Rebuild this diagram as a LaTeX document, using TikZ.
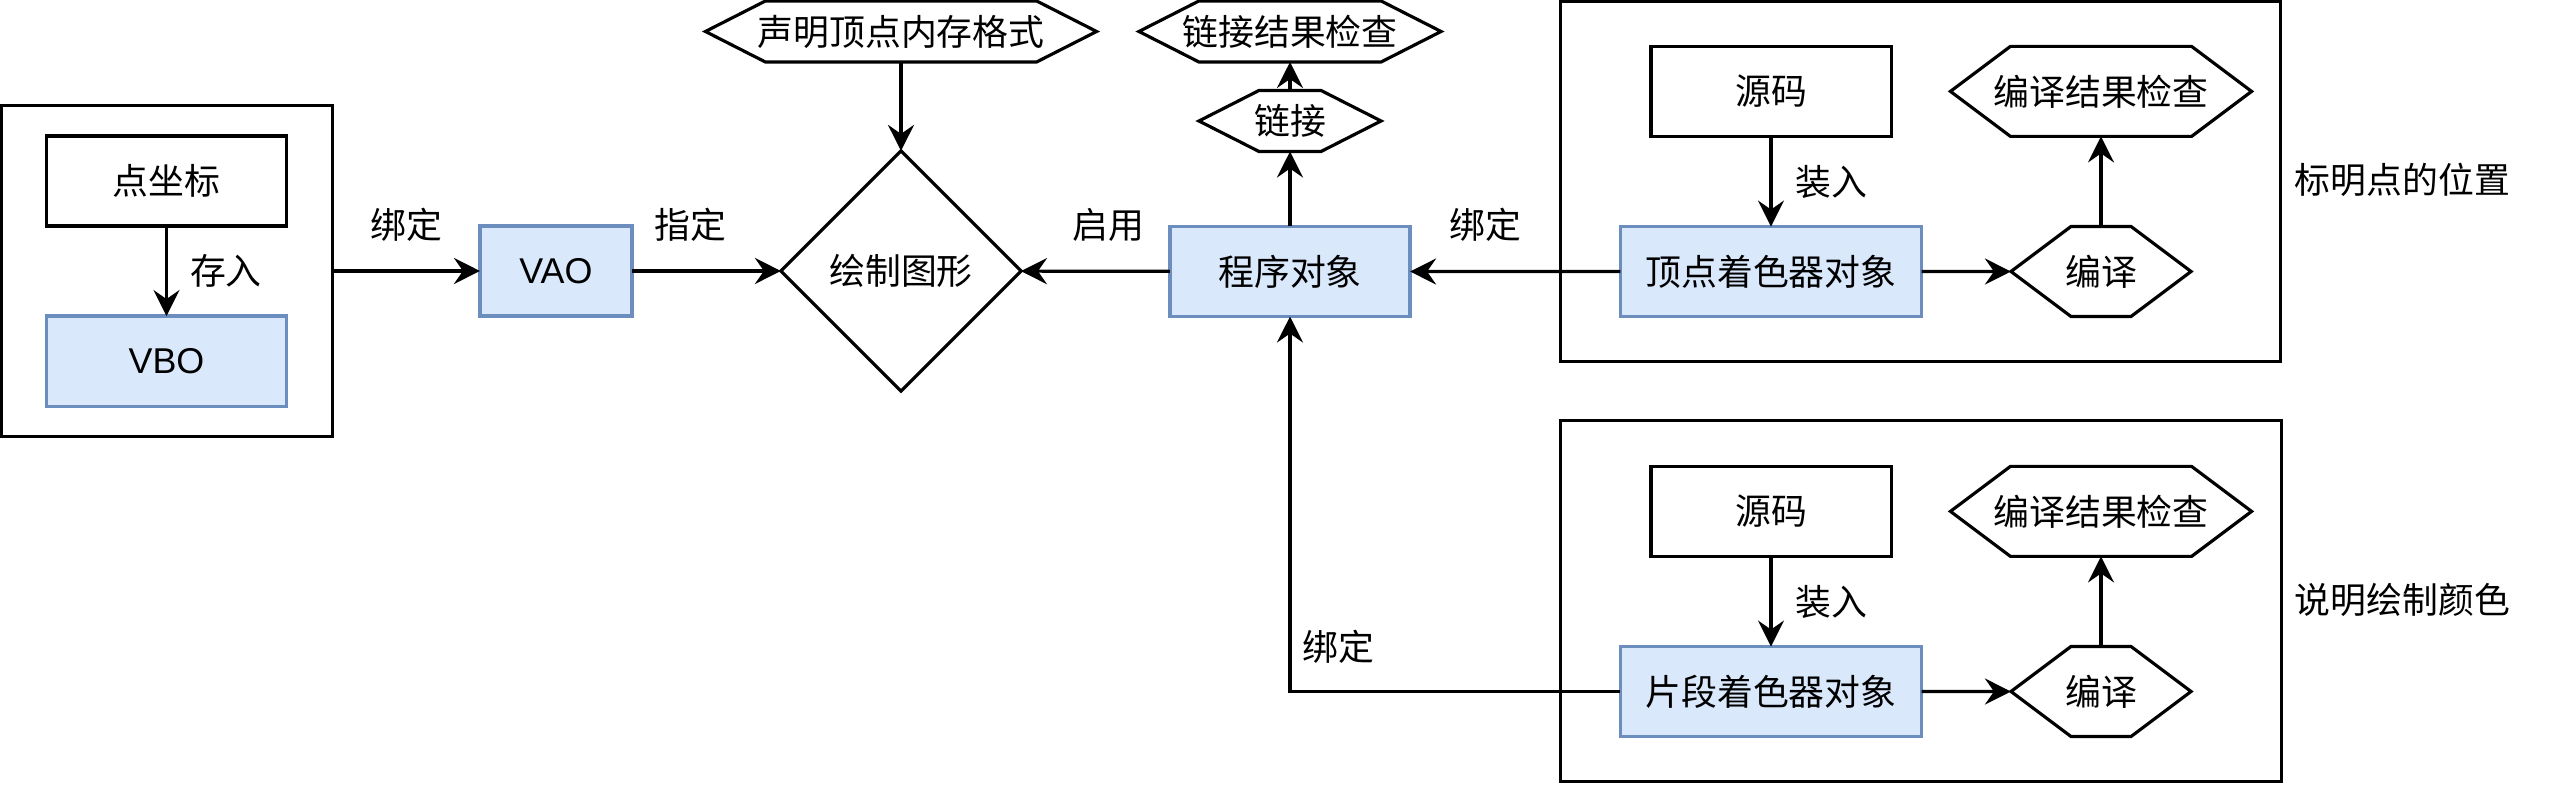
\documentclass[tikz,border=0pt]{standalone}
\usepackage{fontspec}
\setmainfont{Noto Sans CJK SC}
\newfontfamily\latin{Liberation Sans}
\usepackage{tikz}
\usetikzlibrary{shapes.geometric, arrows.meta, positioning}
\definecolor{objfill}{HTML}{DAE8FC}
\definecolor{objline}{HTML}{6C8EBF}
\tikzstyle{srcbox} = [rectangle,
minimum width=2.4cm,
minimum height=0.9cm,
inner sep=0pt, outer sep=0pt,
draw=black, line width=0.9pt]
\tikzstyle{object} = [srcbox, draw=objline, fill=objfill]
\tikzstyle{check} = [rectangle,
minimum height=0.9cm,
inner sep=0pt, outer sep=0pt,
append after command={\pgfextra{\draw[line width=0.9pt]
  (\tikzlastnode.west) -- ([xshift=0.6cm]\tikzlastnode.north west)
  -- ([xshift=-0.6cm]\tikzlastnode.north east) -- (\tikzlastnode.east)
  -- ([xshift=-0.6cm]\tikzlastnode.south east)
  -- ([xshift=0.6cm]\tikzlastnode.south west) -- cycle;}}]
\tikzstyle{decide} = [diamond,
minimum width=2.4cm,
minimum height=2.4cm,
inner sep=0pt, outer sep=0pt,
draw=black, line width=0.9pt]
\tikzstyle{panel} = [rectangle, draw=black, line width=0.9pt, inner sep=0pt, outer sep=0pt]
\tikzstyle{edgetext} = [inner sep=0pt]
\tikzstyle{arrow} = [line width=0.9pt,-{Stealth[length=0.26cm, width=0.26cm, inset=0.09cm]}]

\begin{document}
\begin{tikzpicture}[x=0.01cm, y=-0.01cm, every node/.style={font=\fontsize{10.2pt}{12pt}\selectfont}]
            \useasboundingbox (0,0) rectangle (2553,786);
            % vertex data
            \node (vframe) [panel, minimum width=3.3cm, minimum height=3.3cm] at (167,271) {};
            \node (coord) [srcbox] at (166.5,181) {点坐标};
            \node (vbo) [object, below=0.9cm of coord] {\latin VBO};
            \node (vao) [object, minimum width=1.52cm] at (556,271) {\latin VAO};
            \node (render) [decide] at (901,271) {绘制图形};
            \node (layout) [check, minimum width=3.91cm, minimum height=0.61cm] at (901,31.5) {声明顶点内存格式};
            \node (prog) [object] at (1290,271.5) {程序对象};
            \node (link) [check, minimum width=1.82cm, minimum height=0.61cm] at (1290,121) {链接};
            \node (linkchk) [check, minimum width=3.02cm, minimum height=0.61cm] at (1290,31.5) {链接结果检查};

            % vertex shader
            \node (vsframe) [panel, minimum width=7.19cm, minimum height=3.59cm] at (1920.5,181.5) {};
            \node (vsrc) [srcbox] at (1771,91.5) {源码};
            \node (vshader) [object, minimum width=3.01cm, below=0.9cm of vsrc] {顶点着色器对象};
            \node (vcomp) [check, minimum width=1.8cm] at (2101,271.5) {编译};
            \node (vchk) [check, minimum width=3.01cm, above=0.9cm of vcomp] {编译结果检查};
            \node (vnote) [edgetext, anchor=west] at (2294,180) {标明点的位置};

            % fragment shader
            \node (fsframe) [panel, minimum width=7.2cm, minimum height=3.6cm] at (1921,601) {};
            \node (fsrc) [srcbox] at (1771,511.5) {源码};
            \node (fshader) [object, minimum width=3.01cm, below=0.9cm of fsrc] {片段着色器对象};
            \node (fcomp) [check, minimum width=1.8cm] at (2101,691.5) {编译};
            \node (fchk) [check, minimum width=3.01cm, above=0.9cm of fcomp] {编译结果检查};
            \node (fnote) [edgetext, anchor=west] at (2294,600) {说明绘制颜色};

            \draw [arrow] (coord) -- node[edgetext, right=0.22cm] {存入} (vbo);
            \draw [arrow] (vframe) -- node[edgetext, above=0.28cm] {绑定} (vao);
            \draw [arrow] (vao) -- node[edgetext, pos=0.39, above=0.28cm] {指定} (render);
            \draw [arrow] (layout) -- (render);
            \draw [arrow] (prog) -- node[edgetext, pos=0.41, above=0.28cm] {启用} (render);
            \draw [arrow] (prog) -- (link);
            \draw [arrow] (link) -- (linkchk);
            \draw [arrow] (vshader) -- node[edgetext, pos=0.64, above=0.28cm] {绑定} (prog);
            \draw [arrow] (vsrc) -- node[edgetext, right=0.23cm] {装入} (vshader);
            \draw [arrow] (vshader) -- (vcomp);
            \draw [arrow] (vcomp) -- (vchk);
            \draw [arrow] (fsrc) -- node[edgetext, right=0.23cm] {装入} (fshader);
            \draw [arrow] (fshader) -- (fcomp);
            \draw [arrow] (fcomp) -- (fchk);
            \draw [arrow] (fshader) -| node[edgetext, pos=0.56, right=0.11cm] {绑定} (prog);
        \end{tikzpicture}
\end{document}
